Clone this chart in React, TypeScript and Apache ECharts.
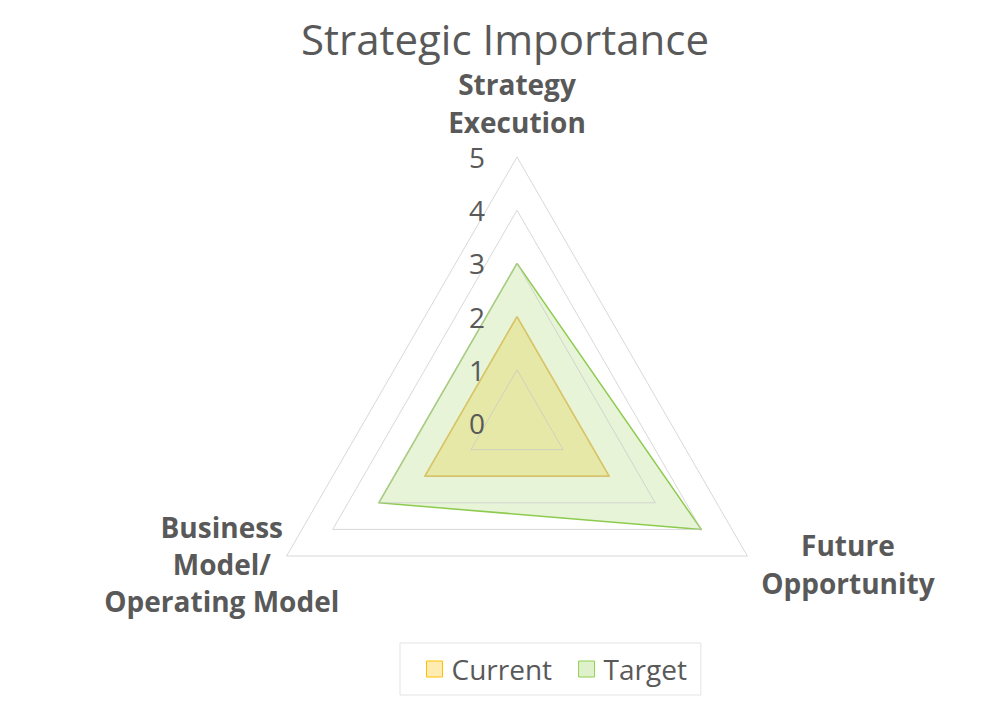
import * as echarts from 'echarts';
import { useEffect, useRef } from 'react';

const indicators = ['Strategy\nExecution', 'Business\nModel/\nOperating Model', 'Future\nOpportunity'];
const maxValue = 5;
const currentValues = [2, 2, 2];
const targetValues = [3, 3, 4];

const grey = '#595959';
const font = '"Open Sans", sans-serif';

export default function App() {
    const chartRef = useRef<HTMLDivElement>(null);

    useEffect(() => {
        if (!chartRef.current) return;
        document.body.style.margin = '0';

        const chart = echarts.init(chartRef.current, null, { renderer: 'svg' });

        const option: echarts.EChartsOption = {
            animation: false,
            backgroundColor: '#fff',
            title: {
                text: 'Strategic Importance',
                left: 500,
                top: 12,
                textAlign: 'center',
                textStyle: {
                    fontFamily: font,
                    fontSize: 42,
                    fontWeight: 'normal',
                    color: grey,
                },
            },
            legend: {
                bottom: 17,
                left: 400,
                padding: [12, 14, 12, 26],
                itemGap: 26,
                itemWidth: 16,
                itemHeight: 16,
                borderColor: '#e3e3e3',
                borderWidth: 1,
                icon: 'rect',
                textStyle: { fontFamily: font, fontSize: 28, color: grey, padding: [0, 0, 0, 4] },
                data: [
                    {
                        name: 'Current',
                        itemStyle: { color: 'rgba(255,192,0,0.3)', borderColor: '#FFC000', borderWidth: 1 },
                    },
                    {
                        name: 'Target',
                        itemStyle: { color: 'rgba(146,208,80,0.3)', borderColor: '#92D050', borderWidth: 1 },
                    },
                ],
            },
            radar: {
                center: [517, 423],
                radius: 266,
                startAngle: 90,
                splitNumber: 5,
                nameGap: 16,
                z: 4,
                indicator: indicators.map((name, i) => ({
                    name,
                    min: 0,
                    max: maxValue,
                    axisLabel:
                        i === 0
                            ? {
                                  show: true,
                                  margin: 32,
                                  fontFamily: font,
                                  fontSize: 28,
                                  color: grey,
                              }
                            : { show: false },
                })),
                axisName: {
                    fontFamily: font,
                    fontSize: 28,
                    fontWeight: 'bold',
                    color: grey,
                    lineHeight: 38,
                    formatter: (value?: string) => {
                        const style = value && value.startsWith('Business') ? 'w' : 'c';
                        return (value || '')
                            .split('\n')
                            .map((line) => `{${style}|${line}}`)
                            .join('\n');
                    },
                    rich: {
                        c: { align: 'center', fontFamily: font, fontSize: 28, fontWeight: 'bold', color: grey, lineHeight: 38 },
                        w: { align: 'center', width: 102, fontFamily: font, fontSize: 28, fontWeight: 'bold', color: grey, lineHeight: 37 },
                    },
                },
                axisLine: { show: false },
                axisTick: { show: false },
                splitArea: { show: false },
                splitLine: { lineStyle: { color: 'rgba(200,200,200,0.7)', width: 1 } },
            },
            series: [
                {
                    name: 'Target',
                    type: 'radar',
                    z: 2,
                    symbol: 'none',
                    lineStyle: { color: '#8DCB4E', width: 1.5 },
                    areaStyle: { color: 'rgba(146,208,80,0.32)' },
                    itemStyle: { color: '#92D050' },
                    data: [{ name: 'Target', value: targetValues }],
                },
                {
                    name: 'Current',
                    type: 'radar',
                    z: 3,
                    symbol: 'none',
                    lineStyle: { color: '#E2BE24', width: 1.5 },
                    areaStyle: { color: 'rgba(222,193,0,0.32)' },
                    itemStyle: { color: '#FFC000' },
                    data: [{ name: 'Current', value: currentValues }],
                },
            ],
        };

        chart.setOption(option);

        const handleResize = () => chart.resize();
        window.addEventListener('resize', handleResize);

        return () => {
            chart.dispose();
            window.removeEventListener('resize', handleResize);
        };
    }, []);

    return <div ref={chartRef} style={{ width: '1000px', height: '712px' }} />;
}
